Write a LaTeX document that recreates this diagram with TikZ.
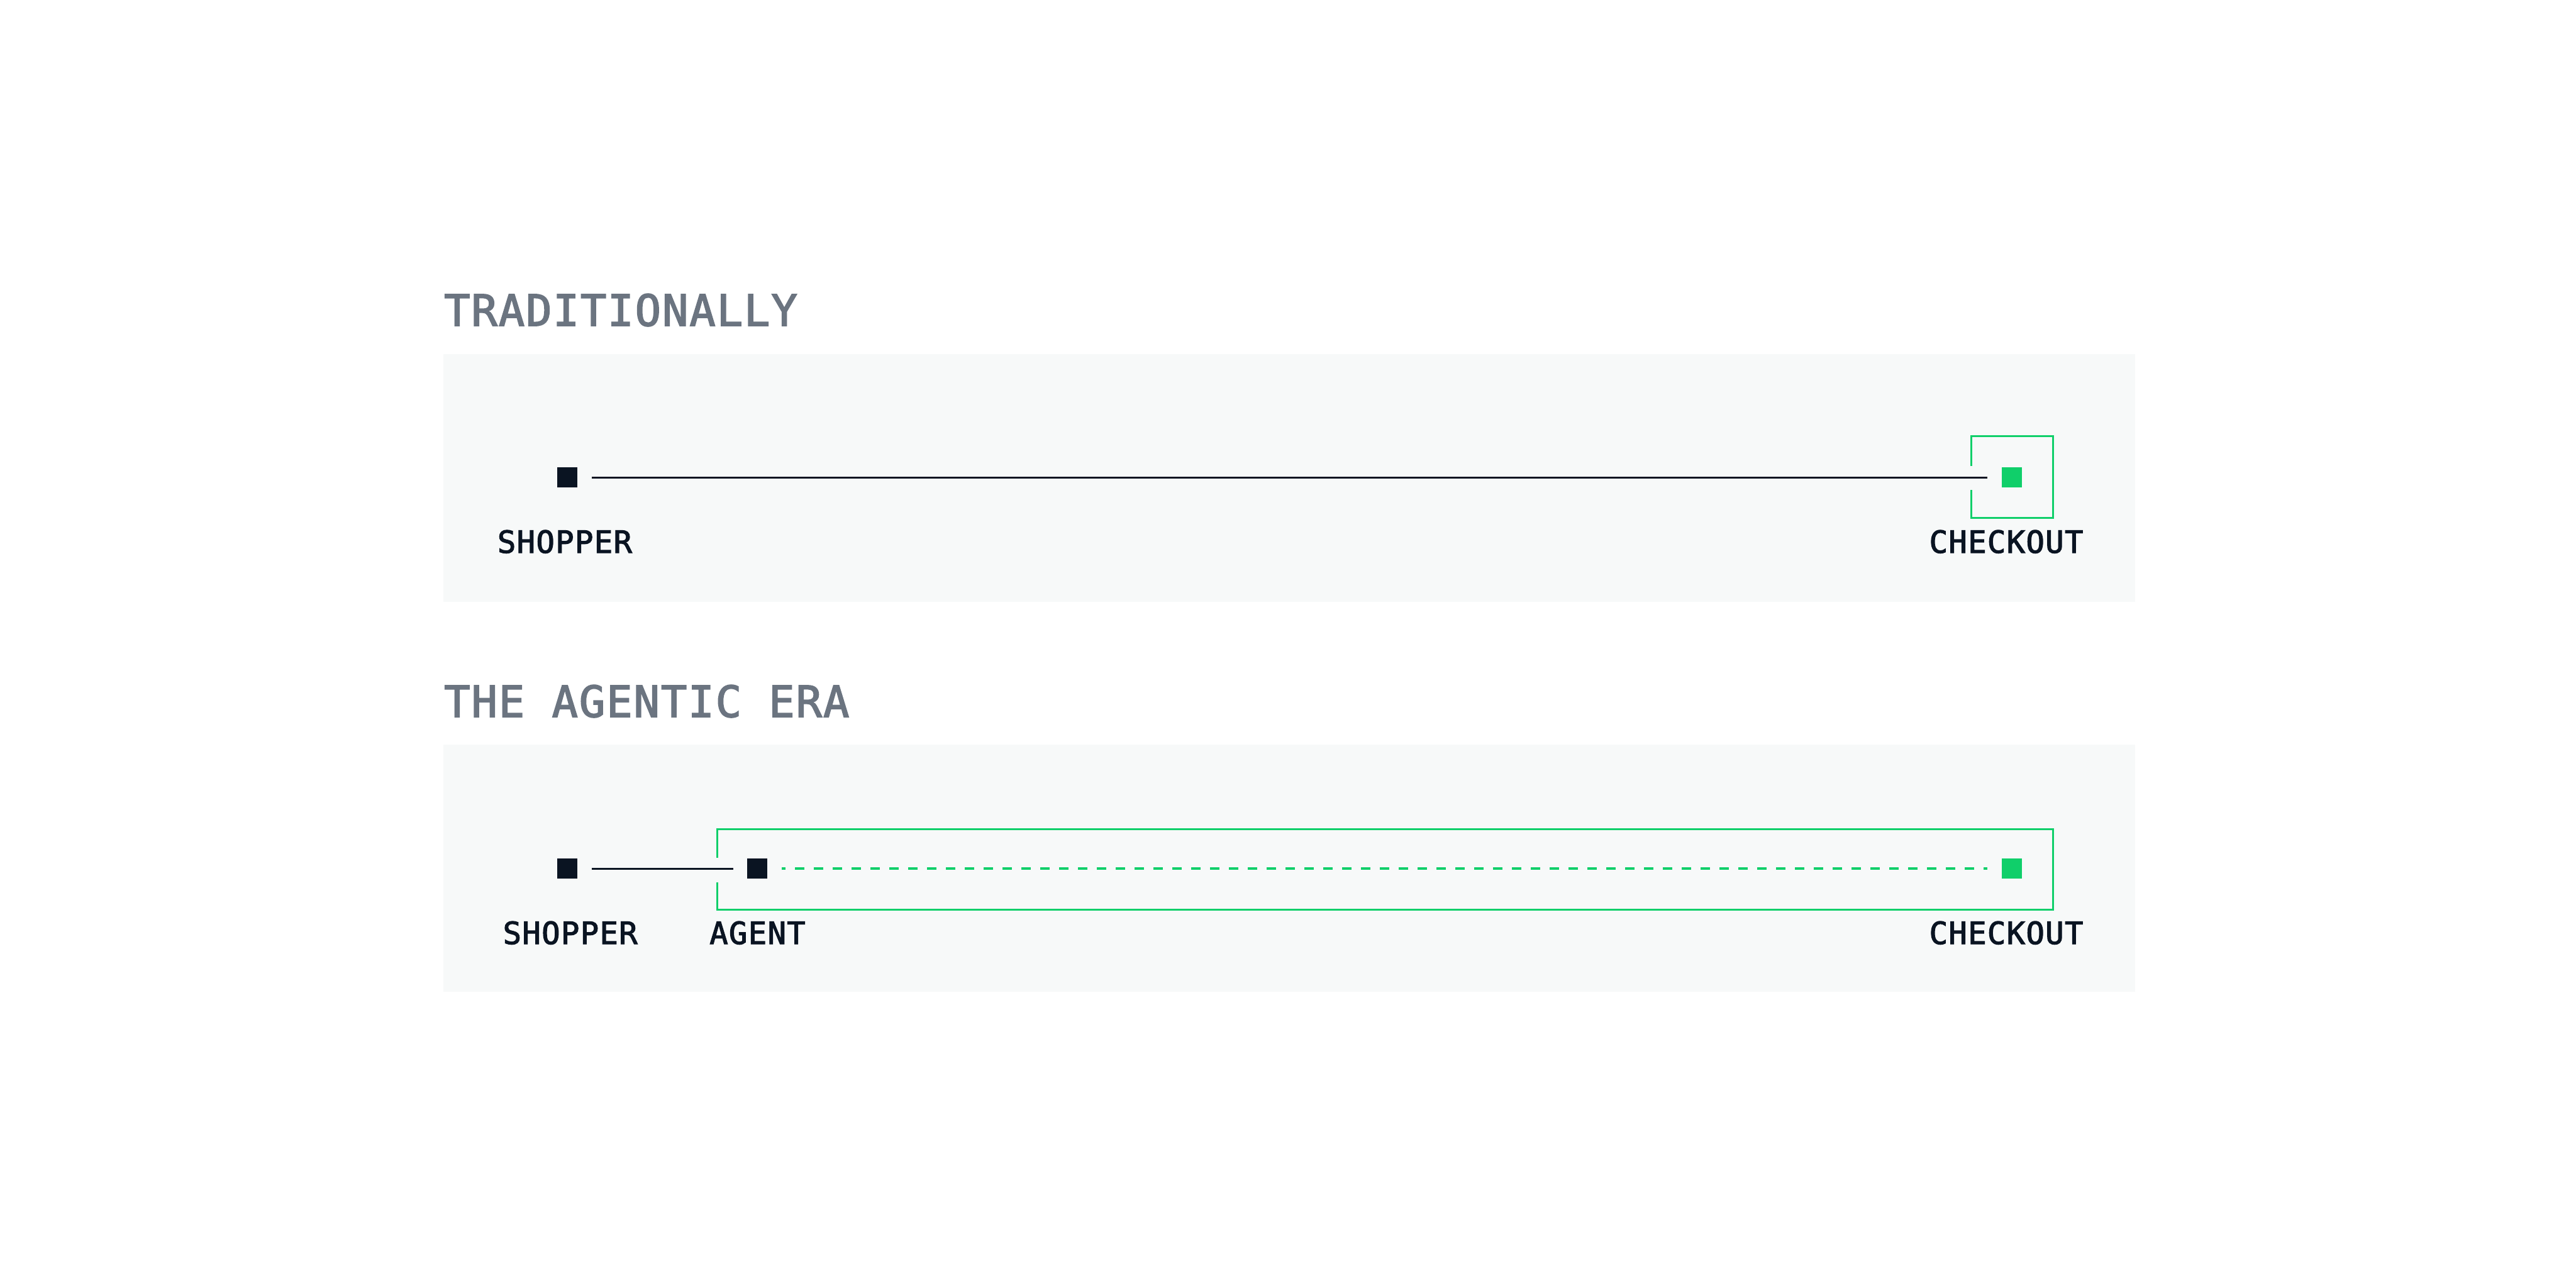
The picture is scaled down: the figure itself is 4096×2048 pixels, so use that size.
\documentclass[tikz,border=0pt]{standalone}
\usepackage{fontspec}
\usetikzlibrary{calc}
\newfontfamily\monofont[LetterSpace=3,FakeBold=2.5]{DejaVu Sans Mono}
\definecolor{panelbg}{HTML}{F7F9F9}
\definecolor{titlegray}{HTML}{6B7480}
\definecolor{inkdark}{HTML}{0A1422}
\definecolor{okgreen}{HTML}{10CF6A}
\begin{document}
\begin{tikzpicture}[x=1pt,y=-1pt,
  panel/.style={fill=panelbg,draw=none},
  titletext/.style={anchor=base west,inner sep=0pt,text=titlegray,font=\monofont\fontsize{68.6}{80}\selectfont},
  labeltext/.style={anchor=base,inner sep=0pt,text=inkdark,font=\monofont\fontsize{48.7}{58}\selectfont},
  darksq/.style={rectangle,fill=inkdark,draw=none,minimum size=32pt,inner sep=0pt},
  greensq/.style={rectangle,fill=okgreen,draw=none,minimum size=32pt,inner sep=0pt},
  solidlink/.style={draw=inkdark,line width=3pt},
  dashlink/.style={draw=okgreen,line width=3.5pt,dash pattern=on 14.7pt off 15.3pt,dash phase=9pt},
  bracket/.style={draw=okgreen,line width=3pt,line join=miter}
]
\useasboundingbox[fill=white] (0,0) rectangle (4096,2048);

% ---------- Panel 1: Traditionally ----------
\node[titletext] (t1) at (706,518) {TRADITIONALLY};
\fill[panel] (705,563) rectangle (3395,957);

\node[darksq] (s1) at (902,759) {};
\node[greensq] (c1) at (3199,759) {};
\draw[solidlink] ([xshift=23pt]s1.east) -- ([xshift=-23pt]c1.west);
\draw[bracket] ($(c1)+(-65,-18)$) -- ($(c1)+(-65,-66)$) -- ($(c1)+(65,-66)$)
  -- ($(c1)+(65,64)$) -- ($(c1)+(-65,64)$) -- ($(c1)+(-65,20)$);

\node[labeltext] (ls1) at (898,879) {SHOPPER};
\node[labeltext] (lc1) at (3190,879) {CHECKOUT};

% ---------- Panel 2: The agentic era ----------
\node[titletext] (t2) at (706,1140) {THE AGENTIC ERA};
\fill[panel] (705,1184) rectangle (3395,1577);

\node[darksq] (s2) at (902,1381) {};
\node[darksq] (a2) at (1204,1381) {};
\node[greensq] (c2) at (3199,1381) {};
\draw[solidlink] ([xshift=23pt]s2.east) -- ([xshift=-22pt]a2.west);
\draw[dashlink] ([xshift=23pt]a2.east) -- ([xshift=-23pt]c2.west);
\draw[bracket] ($(a2)+(-64,-17)$) -- ($(a2)+(-64,-63)$) -- ($(c2)+(65,-63)$)
  -- ($(c2)+(65,65)$) -- ($(a2)+(-64,65)$) -- ($(a2)+(-64,22)$);

\node[labeltext] (ls2) at (906.7,1501) {SHOPPER};
\node[labeltext] (la2) at (1204.5,1501) {AGENT};
\node[labeltext] (lc2) at (3190,1501) {CHECKOUT};
\end{tikzpicture}
\end{document}
